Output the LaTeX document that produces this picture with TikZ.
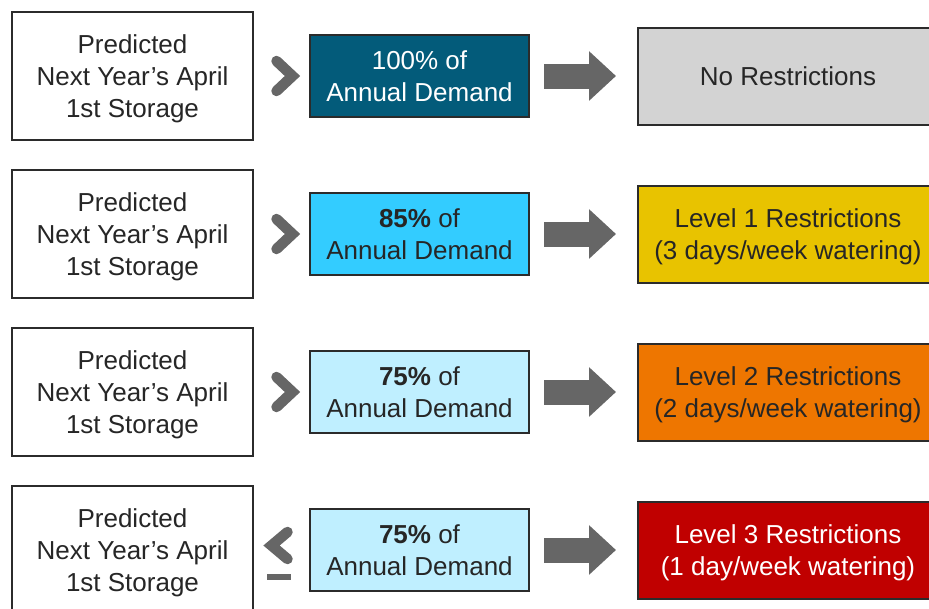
\documentclass[tikz,border=0pt]{standalone}
\usepackage{fontspec}
\setmainfont{Liberation Sans}
\usetikzlibrary{arrows.meta,calc}
\definecolor{txtgray}{HTML}{262626}
\definecolor{bordergray}{HTML}{2B2B2B}
\definecolor{chevgray}{HTML}{666666}
\definecolor{tealdark}{HTML}{035B7A}
\definecolor{brightblue}{HTML}{33CCFF}
\definecolor{lightblue}{HTML}{BFEFFF}
\definecolor{noresgray}{HTML}{D3D3D3}
\definecolor{lvlyellow}{HTML}{E8C300}
\definecolor{lvlorange}{HTML}{EE7600}
\definecolor{lvlred}{HTML}{C00000}
\newcommand\tstrut{\rule{0pt}{23.5pt}}
\newcommand\bstrut{\rule[-5.5pt]{0pt}{5.5pt}}
\tikzset{
  basebox/.style={draw=bordergray, line width=2pt, inner sep=0pt, align=center,
    text=txtgray, font=\fontsize{26}{32}\selectfont},
  predbox/.style={basebox, fill=white, minimum width=241pt, minimum height=128pt},
  pctbox/.style={basebox, minimum width=219pt, minimum height=82pt},
  resbox/.style={basebox, minimum width=300pt, minimum height=97pt},
  chev/.style={draw=chevgray, line width=10.5pt, line cap=round, line join=miter},
  blockarrow/.style={draw=chevgray, line width=25pt, -{Triangle[length=27pt,width=48pt]}},
}
\begin{document}
\begin{tikzpicture}[x=1pt,y=-1pt]
\useasboundingbox (0,0) rectangle (929,608);
\clip (0,0) rectangle (929,608);
\fill[white] (0,0) rectangle (929,608);

% Row 1
\node[predbox] (p1) at (132.5,76) {\tstrut Predicted\\Next Year’s April\\1st Storage\bstrut};
\node[pctbox, fill=tealdark, text=white] (d1) at (419.5,76) {\tstrut 100\% of\\Annual Demand\bstrut};
\node[resbox, fill=noresgray] (r1) at (788,76) {\tstrut No Restrictions\bstrut};
% Row 2
\node[predbox] (p2) at (132.5,234) {\tstrut Predicted\\Next Year’s April\\1st Storage\bstrut};
\node[pctbox, fill=brightblue] (d2) at (419.5,234) {\tstrut\textbf{85\%} of\\Annual Demand\bstrut};
\node[resbox, fill=lvlyellow] (r2) at (788,234) {\tstrut Level 1 Restrictions\\(3 days/week watering)\bstrut};
% Row 3
\node[predbox] (p3) at (132.5,392) {\tstrut Predicted\\Next Year’s April\\1st Storage\bstrut};
\node[pctbox, fill=lightblue] (d3) at (419.5,392) {\tstrut\textbf{75\%} of\\Annual Demand\bstrut};
\node[resbox, fill=lvlorange] (r3) at (788,392) {\tstrut Level 2 Restrictions\\(2 days/week watering)\bstrut};
% Row 4
\node[predbox] (p4) at (132.5,550) {\tstrut Predicted\\Next Year’s April\\1st Storage\bstrut};
\node[pctbox, fill=lightblue] (d4) at (419.5,550) {\tstrut\textbf{75\%} of\\Annual Demand\bstrut};
\node[resbox, fill=lvlred, text=white] (r4) at (788,550) {\tstrut Level 3 Restrictions\\(1 day/week watering)\bstrut};

% block arrows
\foreach \i in {1,2,3,4}{
  \draw[blockarrow] ($(d\i.east)+(14,0)$) -- ($(r\i.west)+(-21,0)$);
}

% greater-than chevrons
\foreach \i/\y in {1/76,2/234,3/392}{
  \coordinate (g\i) at (285,\y);
  \draw[chev] ($(g\i)+(-8.5,-15)$) -- ($(g\i)+(7.5,0)$) -- ($(g\i)+(-8.5,15)$);
}
% less-than-or-equal sign
\coordinate (g4) at (278,545.5);
\draw[chev] ($(g4)+(9.5,-13.5)$) -- ($(g4)+(-6.5,0)$) -- ($(g4)+(9.5,13.5)$);
\fill[chevgray] ($(g4)+(-11,28.5)$) rectangle ($(g4)+(13,34.5)$);
\end{tikzpicture}
\end{document}
